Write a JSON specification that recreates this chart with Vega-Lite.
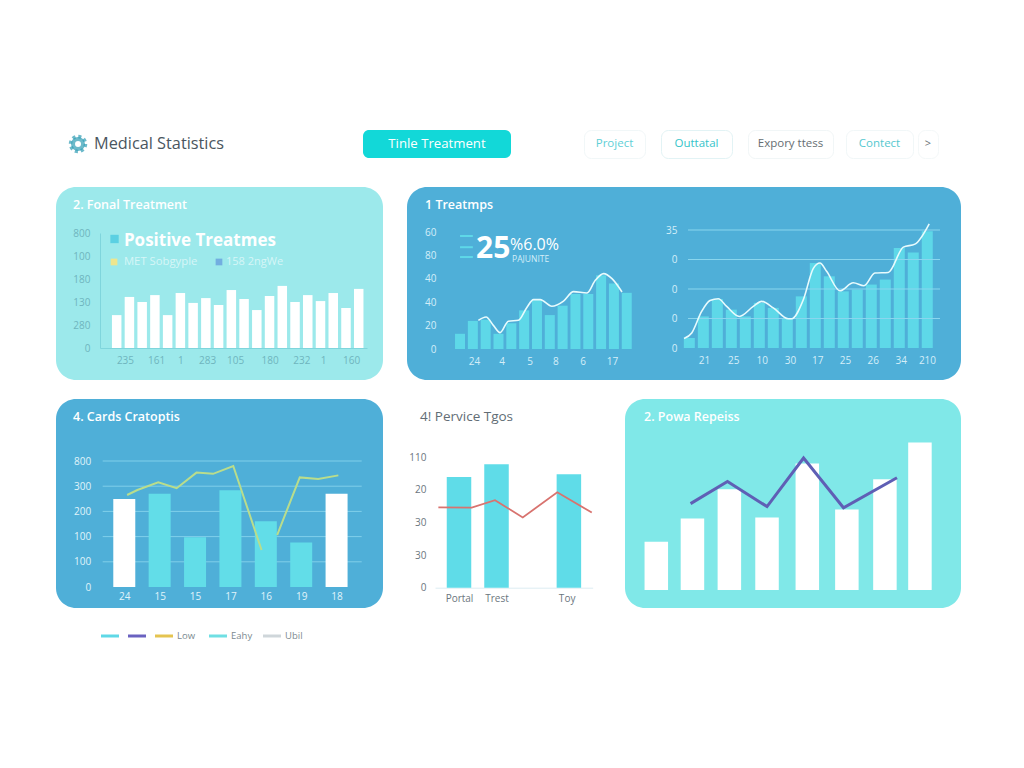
{"$schema":"https://vega.github.io/schema/vega-lite/v6.json","padding":{"left":56,"top":129,"right":63,"bottom":120},"background":"#ffffff","config":{"font":"Open Sans","view":{"stroke":null},"axis":{"grid":false,"ticks":false,"labelFontSize":10,"labelOverlap":false}},"spacing":28,"vconcat":[{"spacing":0,"hconcat":[{"width":307,"height":28,"layer":[{"data":{"values":[{"name":"logo"}]},"mark":{"type":"point","shape":"circle","size":225,"filled":false,"stroke":"#2f9db5","strokeWidth":3.5,"strokeDash":[3,2.9]},"encoding":{"x":{"datum":0.0717,"type":"quantitative","scale":{"domain":[0,1],"nice":false},"axis":null}}},{"data":{"values":[{"name":"logo"}]},"mark":{"type":"point","shape":"circle","size":100,"filled":false,"stroke":"#2f9db5","strokeWidth":4},"encoding":{"x":{"datum":0.0717,"type":"quantitative","scale":{"domain":[0,1],"nice":false},"axis":null}}},{"data":{"values":[{"name":"Medical Statistics"}]},"mark":{"type":"text","align":"left","fontSize":16.3,"color":"#4a5660","fontWeight":500},"encoding":{"x":{"datum":0.124,"type":"quantitative","scale":{"domain":[0,1],"nice":false},"axis":null},"text":{"field":"name"}}}]},{"spacing":72,"hconcat":[{"width":148,"height":28,"view":{"fill":"#12d8d8","cornerRadius":6,"stroke":null},"data":{"values":[{"name":"Tinle Treatment"}]},"mark":{"type":"text","fontSize":13.2,"color":"#ffffff","fontWeight":500},"encoding":{"text":{"field":"name"}}},{"spacing":11,"hconcat":[{"spacing":14,"hconcat":[{"width":61,"height":28,"view":{"fill":"#ffffff","cornerRadius":7,"stroke":"#f1f7f8"},"data":{"values":[{"name":"Project"}]},"mark":{"type":"text","fontSize":11.5,"color":"#5fcfd6"},"encoding":{"text":{"field":"name"}}},{"width":71,"height":28,"view":{"fill":"#ffffff","cornerRadius":7,"stroke":"#e2f3f5"},"data":{"values":[{"name":"Outtatal"}]},"mark":{"type":"text","fontSize":11.5,"color":"#35c4ca"},"encoding":{"text":{"field":"name"}}},{"width":85,"height":28,"view":{"fill":"#ffffff","cornerRadius":7,"stroke":"#f1f6f7"},"data":{"values":[{"name":"Expory ttess"}]},"mark":{"type":"text","fontSize":11.5,"color":"#666e72"},"encoding":{"text":{"field":"name"}}}]},{"spacing":3,"hconcat":[{"width":67,"height":28,"view":{"fill":"#ffffff","cornerRadius":7,"stroke":"#f1f7f8"},"data":{"values":[{"name":"Contect"}]},"mark":{"type":"text","fontSize":11.5,"color":"#55c8cf"},"encoding":{"text":{"field":"name"}}},{"width":20,"height":28,"view":{"fill":"#ffffff","cornerRadius":7,"stroke":"#f4f8f9"},"data":{"values":[{"name":">"}]},"mark":{"type":"text","fontSize":11,"color":"#6a7276"},"encoding":{"text":{"field":"name"}}}]}]}]}]},{"spacing":19,"vconcat":[{"spacing":24,"hconcat":[{"width":327,"height":193,"view":{"fill":"#9ce9eb","cornerRadius":20,"stroke":null},"title":{"text":"2. Fonal Treatment","anchor":"start","frame":"group","dx":17,"offset":-24,"color":"#ffffff","fontSize":12.5,"fontWeight":600},"layer":[{"data":{"values":[{"i":1,"v":143},{"i":2,"v":222},{"i":3,"v":200},{"i":4,"v":230},{"i":5,"v":143},{"i":6,"v":239},{"i":7,"v":196},{"i":8,"v":217},{"i":9,"v":187},{"i":10,"v":252},{"i":11,"v":213},{"i":12,"v":165},{"i":13,"v":226},{"i":14,"v":270},{"i":15,"v":200},{"i":16,"v":230},{"i":17,"v":204},{"i":18,"v":239},{"i":19,"v":174},{"i":20,"v":257}]},"mark":{"type":"bar","orient":"vertical","size":9.5,"color":"#ffffff"},"encoding":{"x":{"field":"i","type":"quantitative","scale":{"domain":[-0.31,20.65],"range":[44,311],"nice":false,"zero":false,"padding":0},"axis":{"title":null,"offset":-32,"domain":true,"domainColor":"#7fd5dc","labelColor":"#6fb5be","labelPadding":7,"labelOverlap":false,"tickCount":30,"values":[1.65,4.1,6,8.1,10.3,13,15.5,17.2,19.4],"labelExpr":"['235','161','1','283','105','180','232','1','160'][indexof([1.65,4.1,6,8.1,10.3,13,15.5,17.2,19.4],datum.value)]"}},"y":{"field":"v","type":"quantitative","stack":null,"scale":{"domain":[0,500],"range":[161,46],"nice":false},"axis":{"title":null,"offset":-44,"domain":true,"domainColor":"#7fd5dc","labelColor":"#6fb5be","labelPadding":10,"labelOverlap":false,"tickCount":30,"values":[0,100,200,300,400,500],"labelExpr":"['0','280','130','180','100','800'][datum.value/100]"}}}},{"data":{"values":[{"label":"Positive Treatmes"}]},"mark":{"type":"text","align":"left","fontSize":17,"fontWeight":"bold","color":"#ffffff"},"encoding":{"x":{"datum":1.57,"type":"quantitative","scale":{"domain":[-0.31,20.65],"range":[44,311],"nice":false,"zero":false,"padding":0}},"y":{"datum":466,"type":"quantitative","scale":{"domain":[0,500],"range":[161,46],"nice":false}},"text":{"field":"label"}}},{"data":{"values":[{"label":"MET Sobgyple"}]},"mark":{"type":"text","align":"left","fontSize":11.3,"color":"#d6f6f7"},"encoding":{"x":{"datum":1.57,"type":"quantitative","scale":{"domain":[-0.31,20.65],"range":[44,311],"nice":false,"zero":false,"padding":0}},"y":{"datum":374,"type":"quantitative","scale":{"domain":[0,500],"range":[161,46],"nice":false}},"text":{"field":"label"}}},{"data":{"values":[{"label":"158 2ngWe"}]},"mark":{"type":"text","align":"left","fontSize":11,"color":"#d6f6f7"},"encoding":{"x":{"datum":9.58,"type":"quantitative","scale":{"domain":[-0.31,20.65],"range":[44,311],"nice":false,"zero":false,"padding":0}},"y":{"datum":374,"type":"quantitative","scale":{"domain":[0,500],"range":[161,46],"nice":false}},"text":{"field":"label"}}},{"data":{"values":[{"label":"a"}]},"mark":{"type":"point","shape":"square","filled":true,"size":70,"color":"#5bd0e2","opacity":1},"encoding":{"x":{"datum":0.83,"type":"quantitative","scale":{"domain":[-0.31,20.65],"range":[44,311],"nice":false,"zero":false,"padding":0}},"y":{"datum":474,"type":"quantitative","scale":{"domain":[0,500],"range":[161,46],"nice":false}}}},{"data":{"values":[{"label":"b"}]},"mark":{"type":"point","shape":"square","filled":true,"size":45,"color":"#eee68e","opacity":1},"encoding":{"x":{"datum":0.79,"type":"quantitative","scale":{"domain":[-0.31,20.65],"range":[44,311],"nice":false,"zero":false,"padding":0}},"y":{"datum":374,"type":"quantitative","scale":{"domain":[0,500],"range":[161,46],"nice":false}}}},{"data":{"values":[{"label":"c"}]},"mark":{"type":"point","shape":"square","filled":true,"size":45,"color":"#72aee0","opacity":1},"encoding":{"x":{"datum":9.03,"type":"quantitative","scale":{"domain":[-0.31,20.65],"range":[44,311],"nice":false,"zero":false,"padding":0}},"y":{"datum":374,"type":"quantitative","scale":{"domain":[0,500],"range":[161,46],"nice":false}}}}]},{"width":554,"height":193,"view":{"fill":"#4fafd8","cornerRadius":20,"stroke":null},"title":{"text":"1  Treatmps","anchor":"start","frame":"group","dx":18,"offset":-24,"color":"#ffffff","fontSize":12.5,"fontWeight":600},"resolve":{"scale":{"x":"independent","y":"independent"},"axis":{"x":"independent","y":"independent"}},"layer":[{"layer":[{"data":{"values":[{"i":1,"v":13},{"i":2,"v":24},{"i":3,"v":25},{"i":4,"v":13},{"i":5,"v":22},{"i":6,"v":33},{"i":7,"v":42},{"i":8,"v":29},{"i":9,"v":37},{"i":10,"v":47},{"i":11,"v":47},{"i":12,"v":63},{"i":13,"v":56},{"i":14,"v":48}]},"mark":{"type":"bar","orient":"vertical","size":10,"color":"#5ed8e8"},"encoding":{"x":{"field":"i","type":"quantitative","scale":{"domain":[-0.64,14.41],"range":[32,225],"nice":false,"zero":false,"padding":0},"axis":{"orient":"bottom","title":null,"offset":-31,"domain":false,"labelColor":"#d4eef8","labelPadding":7,"labelOverlap":false,"tickCount":30,"values":[2.09,4.25,6.42,8.43,10.56,12.85],"labelExpr":"['24','4','5','8','6','17'][indexof([2.09,4.25,6.42,8.43,10.56,12.85],datum.value)]"}},"y":{"field":"v","type":"quantitative","stack":null,"scale":{"domain":[0,100],"range":[162,45],"nice":false},"axis":{"orient":"left","title":null,"offset":-32,"domain":false,"labelColor":"#d4eef8","labelPadding":3,"labelOverlap":false,"tickCount":30,"values":[0,20,40,60,80,100],"labelExpr":"['0','20','40','40','80','60'][datum.value/20]"}}}},{"data":{"values":[{"i":2.43,"v":24.5},{"i":3.03,"v":27.4},{"i":3.6,"v":20.2},{"i":4.12,"v":14},{"i":4.77,"v":23.7},{"i":5.55,"v":24.5},{"i":6.2,"v":35.3},{"i":6.73,"v":42.2},{"i":7.25,"v":42.2},{"i":8.16,"v":36.5},{"i":9.07,"v":41},{"i":9.85,"v":49},{"i":10.9,"v":47.9},{"i":11.55,"v":58.7},{"i":12.2,"v":64.4},{"i":12.85,"v":60.1},{"i":13.63,"v":48.7}]},"mark":{"type":"line","interpolate":"monotone","color":"#e8fbfd","strokeWidth":1.6},"encoding":{"x":{"field":"i","type":"quantitative","scale":{"domain":[-0.64,14.41],"range":[32,225],"nice":false,"zero":false,"padding":0}},"y":{"field":"v","type":"quantitative","scale":{"domain":[0,100],"range":[162,45],"nice":false}}}},{"data":{"values":[{"level":96.6},{"level":87},{"level":78.6}]},"mark":{"type":"rule","color":"#5ed8e8","strokeWidth":2},"encoding":{"x":{"datum":1,"type":"quantitative","scale":{"domain":[-0.64,14.41],"range":[32,225],"nice":false,"zero":false,"padding":0}},"x2":{"datum":2},"y":{"field":"level","type":"quantitative","scale":{"domain":[0,100],"range":[162,45],"nice":false}}}},{"data":{"values":[{"label":"25"}]},"mark":{"type":"text","align":"left","fontSize":30,"fontWeight":"bold","color":"#ffffff"},"encoding":{"x":{"datum":2.25,"type":"quantitative","scale":{"domain":[-0.64,14.41],"range":[32,225],"nice":false,"zero":false,"padding":0}},"y":{"datum":85.5,"type":"quantitative","scale":{"domain":[0,100],"range":[162,45],"nice":false}},"text":{"field":"label"}}},{"data":{"values":[{"label":"%6.0%"}]},"mark":{"type":"text","align":"left","fontSize":16,"color":"#ffffff"},"encoding":{"x":{"datum":4.9,"type":"quantitative","scale":{"domain":[-0.64,14.41],"range":[32,225],"nice":false,"zero":false,"padding":0}},"y":{"datum":89,"type":"quantitative","scale":{"domain":[0,100],"range":[162,45],"nice":false}},"text":{"field":"label"}}},{"data":{"values":[{"label":"PAJUNITE"}]},"mark":{"type":"text","align":"left","fontSize":8.5,"color":"#d4eef8"},"encoding":{"x":{"datum":5.06,"type":"quantitative","scale":{"domain":[-0.64,14.41],"range":[32,225],"nice":false,"zero":false,"padding":0}},"y":{"datum":77,"type":"quantitative","scale":{"domain":[0,100],"range":[162,45],"nice":false}},"text":{"field":"label"}}}]},{"layer":[{"data":{"values":[{"i":1,"v":3.4},{"i":2,"v":10.7},{"i":3,"v":16.6},{"i":4,"v":13},{"i":5,"v":10.7},{"i":6,"v":15.3},{"i":7,"v":13.6},{"i":8,"v":9.9},{"i":9,"v":17.5},{"i":10,"v":28.8},{"i":11,"v":24.3},{"i":12,"v":19.2},{"i":13,"v":19.8},{"i":14,"v":21.5},{"i":15,"v":23.2},{"i":16,"v":33.9},{"i":17,"v":32.4},{"i":18,"v":39.6}]},"mark":{"type":"bar","orient":"vertical","size":11,"color":"#5ed8e8"},"encoding":{"x":{"field":"i","type":"quantitative","scale":{"domain":[0.905,18.91],"range":[281,533],"nice":false,"zero":false,"padding":0},"axis":{"orient":"bottom","title":null,"offset":-32,"domain":false,"labelColor":"#d4eef8","labelPadding":7,"labelOverlap":false,"tickCount":30,"values":[2.05,4.14,6.17,8.19,10.14,12.12,14.1,16.1,17.98],"labelExpr":"['21','25','10','30','17','25','26','34','210'][indexof([2.05,4.14,6.17,8.19,10.14,12.12,14.1,16.1,17.98],datum.value)]"}},"y":{"field":"v","type":"quantitative","stack":null,"scale":{"domain":[0,40],"range":[161,43],"nice":false},"axis":{"orient":"left","title":null,"offset":-281,"domain":false,"labelColor":"#d4eef8","labelPadding":11,"labelOverlap":false,"tickCount":30,"values":[0,10,20,30,40],"labelExpr":"['0','0','0','0','35'][datum.value/10]"}}}},{"data":{"values":[{"g":10},{"g":20},{"g":30},{"g":40}]},"mark":{"type":"rule","color":"#8ad6ee","strokeWidth":1},"encoding":{"x":{"datum":0.905,"type":"quantitative","scale":{"domain":[0.905,18.91],"range":[281,533],"nice":false,"zero":false,"padding":0}},"x2":{"datum":18.91},"y":{"field":"g","type":"quantitative","scale":{"domain":[0,40],"range":[161,43],"nice":false}}}},{"data":{"values":[{"i":0.62,"v":3.2},{"i":1.17,"v":5.1},{"i":1.88,"v":12.4},{"i":2.48,"v":16.1},{"i":3.07,"v":16.7},{"i":3.67,"v":14.1},{"i":4.57,"v":10.7},{"i":5.57,"v":14.1},{"i":6.17,"v":15.8},{"i":7,"v":13.6},{"i":8.07,"v":9.9},{"i":8.31,"v":9.9},{"i":9.14,"v":16.3},{"i":9.86,"v":27},{"i":10.33,"v":28.8},{"i":10.81,"v":26},{"i":11.76,"v":19.4},{"i":12.71,"v":22.1},{"i":13.48,"v":21.1},{"i":14.26,"v":25.4},{"i":15.21,"v":25.6},{"i":16.29,"v":34.2},{"i":17.12,"v":35.2},{"i":18.14,"v":42.1}]},"mark":{"type":"line","interpolate":"monotone","color":"#e8fbfd","strokeWidth":1.6},"encoding":{"x":{"field":"i","type":"quantitative","scale":{"domain":[0.905,18.91],"range":[281,533],"nice":false,"zero":false,"padding":0}},"y":{"field":"v","type":"quantitative","scale":{"domain":[0,40],"range":[161,43],"nice":false}}}}]}]}]},{"spacing":24,"hconcat":[{"width":327,"height":209,"view":{"fill":"#4fafd8","cornerRadius":20,"stroke":null},"title":{"text":"4. Cards Cratoptis","anchor":"start","frame":"group","dx":17,"offset":-24,"color":"#ffffff","fontSize":12.5,"fontWeight":600},"layer":[{"data":{"values":[{"g":100},{"g":200},{"g":300},{"g":400},{"g":500}]},"mark":{"type":"rule","color":"#80cfea","strokeWidth":1},"encoding":{"x":{"datum":0.39,"type":"quantitative","scale":{"domain":[0.39,7.71],"range":[46.7,305.7],"nice":false,"zero":false,"padding":0}},"x2":{"datum":7.71},"y":{"field":"g","type":"quantitative","scale":{"domain":[0,500],"range":[188,62],"nice":false}}}},{"data":{"values":[{"i":2,"v":370},{"i":3,"v":197},{"i":4,"v":384},{"i":5,"v":261},{"i":6,"v":177}]},"mark":{"type":"bar","orient":"vertical","size":22,"color":"#62dde8"},"encoding":{"x":{"field":"i","type":"quantitative","scale":{"domain":[0.39,7.71],"range":[46.7,305.7],"nice":false,"zero":false,"padding":0},"axis":{"orient":"bottom","title":null,"offset":-21,"domain":false,"labelColor":"#e0f4fa","labelPadding":4,"labelOverlap":false,"tickCount":30,"values":[1,2,3,4,5,6,7],"labelExpr":"['24','15','15','17','16','19','18'][datum.value-1]"}},"y":{"field":"v","type":"quantitative","stack":null,"scale":{"domain":[0,500],"range":[188,62],"nice":false},"axis":{"orient":"left","title":null,"offset":-46.7,"domain":false,"labelColor":"#e0f4fa","labelPadding":12,"labelOverlap":false,"tickCount":30,"values":[0,100,200,300,400,500],"labelExpr":"['0','100','100','200','300','800'][datum.value/100]"}}}},{"data":{"values":[{"i":1,"v":349},{"i":7,"v":370}]},"mark":{"type":"bar","orient":"vertical","size":22,"color":"#ffffff"},"encoding":{"x":{"field":"i","type":"quantitative","scale":{"domain":[0.39,7.71],"range":[46.7,305.7],"nice":false,"zero":false,"padding":0}},"y":{"field":"v","type":"quantitative","stack":null,"scale":{"domain":[0,500],"range":[188,62],"nice":false}}}},{"data":{"values":[{"i":1.08,"v":365,"seg":"a"},{"i":1.37,"v":385,"seg":"a"},{"i":1.96,"v":415,"seg":"a"},{"i":2.48,"v":392,"seg":"a"},{"i":3.04,"v":454,"seg":"a"},{"i":3.51,"v":449,"seg":"a"},{"i":4.08,"v":480,"seg":"a"},{"i":4.88,"v":147,"seg":"a"},{"i":5.32,"v":206,"seg":"b"},{"i":5.96,"v":435,"seg":"b"},{"i":6.48,"v":429,"seg":"b"},{"i":7.05,"v":443,"seg":"b"}]},"mark":{"type":"line","color":"#b9dd8c","strokeWidth":2},"encoding":{"x":{"field":"i","type":"quantitative","scale":{"domain":[0.39,7.71],"range":[46.7,305.7],"nice":false,"zero":false,"padding":0}},"y":{"field":"v","type":"quantitative","scale":{"domain":[0,500],"range":[188,62],"nice":false}},"detail":{"field":"seg"}}}]},{"width":194,"height":209,"title":{"text":"4! Pervice Tgos","anchor":"start","frame":"group","dx":13,"offset":-24,"color":"#626d75","fontSize":13.5,"fontWeight":400},"layer":[{"data":{"values":[{"i":1,"v":339},{"i":2,"v":378},{"i":3.93,"v":347}]},"mark":{"type":"bar","orient":"vertical","size":24.5,"color":"#5fdce8"},"encoding":{"x":{"field":"i","type":"quantitative","scale":{"domain":[0.36,4.565],"range":[28,185.7],"nice":false,"zero":false,"padding":0},"axis":{"orient":"bottom","title":null,"offset":-20.3,"domain":true,"domainColor":"#dcecf2","labelColor":"#6b767e","labelPadding":6,"labelOverlap":false,"tickCount":30,"values":[1,2,3.87],"labelExpr":"['Portal','Trest','Toy'][indexof([1,2,3.87],datum.value)]"}},"y":{"field":"v","type":"quantitative","stack":null,"scale":{"domain":[0,400],"range":[188.7,58],"nice":false},"axis":{"orient":"left","title":null,"offset":-28,"domain":false,"labelColor":"#6b767e","labelPadding":9,"labelOverlap":false,"tickCount":30,"values":[0,100,200,300,400],"labelExpr":"['0','30','30','20','110'][datum.value/100]"}}}},{"data":{"values":[{"i":0.45,"v":246},{"i":1.34,"v":245},{"i":1.96,"v":268},{"i":2.7,"v":215},{"i":3.62,"v":292},{"i":4.54,"v":230}]},"mark":{"type":"line","color":"#d8736f","strokeWidth":1.8},"encoding":{"x":{"field":"i","type":"quantitative","scale":{"domain":[0.36,4.565],"range":[28,185.7],"nice":false,"zero":false,"padding":0}},"y":{"field":"v","type":"quantitative","scale":{"domain":[0,400],"range":[188.7,58],"nice":false}}}}]},{"width":336,"height":209,"view":{"fill":"#80e8e8","cornerRadius":20,"stroke":null},"title":{"text":"2. Powa Repeiss","anchor":"start","frame":"group","dx":19,"offset":-24,"color":"#ffffff","fontSize":12.5,"fontWeight":600},"layer":[{"data":{"values":[{"i":1,"v":161},{"i":1.96,"v":238},{"i":2.94,"v":336},{"i":3.94,"v":242},{"i":5.01,"v":422},{"i":6.06,"v":268},{"i":7.07,"v":369},{"i":8,"v":492}]},"mark":{"type":"bar","orient":"vertical","size":23.5,"color":"#ffffff"},"encoding":{"x":{"field":"i","type":"quantitative","scale":{"domain":[0.169,9.09],"range":[0,336],"nice":false,"zero":false,"padding":0},"axis":null},"y":{"field":"v","type":"quantitative","stack":null,"scale":{"domain":[0,500],"range":[191,41],"nice":false},"axis":null}}},{"data":{"values":[{"i":1.91,"v":288},{"i":2.89,"v":362},{"i":3.94,"v":278},{"i":4.91,"v":440},{"i":5.97,"v":274},{"i":7.39,"v":374}]},"mark":{"type":"line","color":"#5f5fb5","strokeWidth":3},"encoding":{"x":{"field":"i","type":"quantitative","scale":{"domain":[0.169,9.09],"range":[0,336],"nice":false,"zero":false,"padding":0},"axis":null},"y":{"field":"v","type":"quantitative","scale":{"domain":[0,500],"range":[191,41],"nice":false},"axis":null}}}]}]},{"width":327,"height":18,"data":{"values":[{"key":"a","label":""},{"key":"b","label":""},{"key":"Low","label":"Low"},{"key":"Eahy","label":"Eahy"},{"key":"Ubil","label":"Ubil"}]},"layer":[{"mark":{"type":"tick","orient":"horizontal","size":18,"thickness":3,"opacity":1},"encoding":{"x":{"field":"key","type":"nominal","scale":{"type":"point","domain":["a","b","Low","s1","Eahy","s2","Ubil"],"range":[54,216],"padding":0},"axis":null},"color":{"field":"key","type":"nominal","scale":{"domain":["a","b","Low","Eahy","Ubil"],"range":["#5fd8e6","#6a62c0","#e5c450","#6fdfe3","#cfd6da"]},"legend":null}}},{"mark":{"type":"text","align":"left","dx":13,"fontSize":9.5,"color":"#7b8a90"},"encoding":{"x":{"field":"key","type":"nominal","scale":{"type":"point","domain":["a","b","Low","s1","Eahy","s2","Ubil"],"range":[54,216],"padding":0},"axis":null},"text":{"field":"label"}}}]}]}]}
